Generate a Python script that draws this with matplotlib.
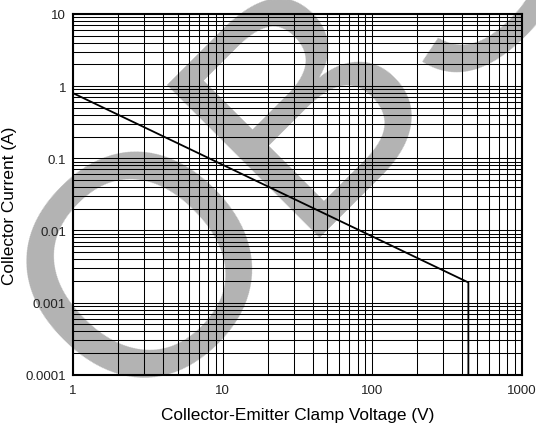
import matplotlib
matplotlib.use('Agg')
import matplotlib.pyplot as plt
from matplotlib.ticker import LogLocator, NullFormatter

# clamp-voltage curve
voltage = [1, 440, 440]
current = [0.8, 0.0019, 0.0001]

x_ticks = [1, 10, 100, 1000]
x_labels = ['1', '10', '100', '1000']
y_ticks = [0.0001, 0.001, 0.01, 0.1, 1, 10]
y_labels = ['0.0001', '0.001', '0.01', '0.1', '1', '10']

plt.rcParams['font.family'] = ['Liberation Sans', 'DejaVu Sans']

fig = plt.figure(figsize=(5.36, 4.27), dpi=100)
ax = fig.add_axes([73/536, 1-375.7/427, (521.7-73)/536, (375.7-15)/427])
ax.patch.set_alpha(0)

# watermark behind the grid, anchored at the baseline origin of the "O"
fig.text(126/536, 1-417/427, 'OBS', rotation=45, rotation_mode='anchor',
         ha='left', va='baseline', fontsize=225, color='#b3b3b3', zorder=-1)

ax.set_xscale('log')
ax.set_yscale('log')
ax.set_xlim(1, 1000)
ax.set_ylim(0.0001, 10)

ax.xaxis.set_minor_locator(LogLocator(base=10, subs=range(2, 10)))
ax.yaxis.set_minor_locator(LogLocator(base=10, subs=range(2, 10)))
ax.xaxis.set_minor_formatter(NullFormatter())
ax.yaxis.set_minor_formatter(NullFormatter())
ax.set_xticks(x_ticks)
ax.set_xticklabels(x_labels)
ax.set_yticks(y_ticks)
ax.set_yticklabels(y_labels)
ax.tick_params(which='both', length=0, labelsize=9.5, colors='#222222')
ax.tick_params(axis='x', pad=7)
ax.tick_params(axis='y', pad=5)

ax.grid(which='both', color='black', linewidth=0.75)
ax.set_axisbelow(True)

ax.plot(voltage, current, color='black', linewidth=1.3)

for s in ax.spines.values():
    s.set_linewidth(1.5)

ax.set_xlabel('Collector-Emitter Clamp Voltage (V)', fontsize=12.4)
ax.set_ylabel('Collector Current (A)', fontsize=12.4)
ax.xaxis.set_label_coords(0.5, -0.089)
ax.yaxis.set_label_coords(-0.124, 0.472)

fig.savefig('out.png', dpi=100)
